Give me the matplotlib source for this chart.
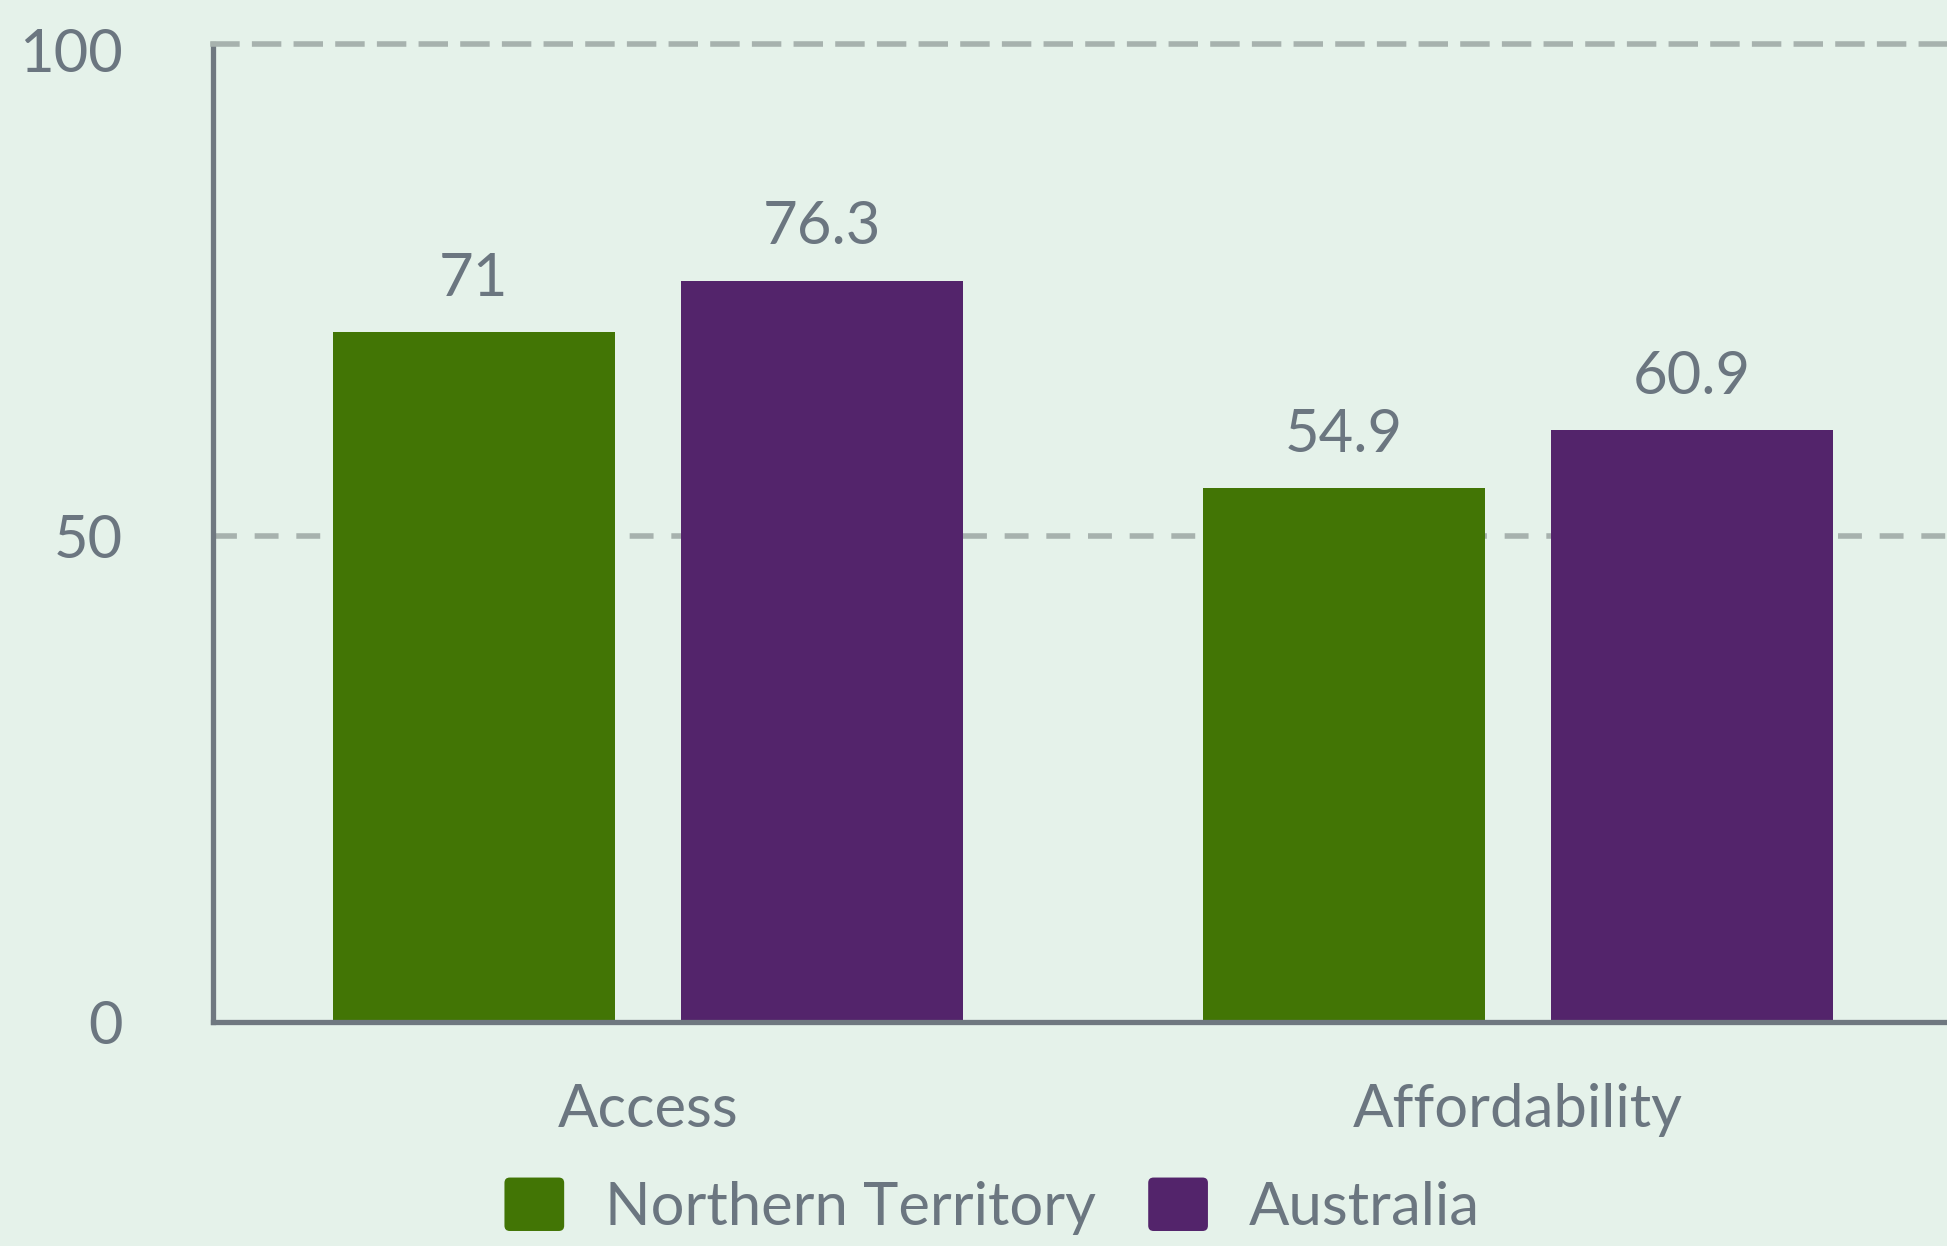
import matplotlib
matplotlib.use("Agg")
import matplotlib.pyplot as plt
import numpy as np
from matplotlib.patches import FancyBboxPatch, Patch
from matplotlib.legend_handler import HandlerPatch

categories = ["Access", "Affordability"]
series_names = ["Northern Territory", "Australia"]
nt_values = [71, 54.9]
aus_values = [76.3, 60.9]
value_labels_nt = ["71", "54.9"]
value_labels_aus = ["76.3", "60.9"]
ytick_values = [0, 50, 100]
ytick_labels = ["0", "50", "100"]

BG = "#e5f2ea"
GREEN = "#427505"
PURPLE = "#53246b"
TEXT = "#6b7680"
GRID = "#a7b2ae"
SPINE = "#6f7880"

plt.rcParams['font.family'] = ['Lato', 'DejaVu Sans']
FS = 43

fig = plt.figure(figsize=(19.47, 12.46), dpi=100, facecolor=BG)
ax = fig.add_axes([0.1092, 0.1800, 0.894, 0.7843])
ax.set_facecolor(BG)

x = np.arange(len(categories))
w = 0.324
off = 0.2
b1 = ax.bar(x - off, nt_values, width=w, color=GREEN, zorder=3)
b2 = ax.bar(x + off, aus_values, width=w, color=PURPLE, zorder=3)

for bars, labs in ((b1, value_labels_nt), (b2, value_labels_aus)):
    for rect, lab in zip(bars, labs):
        ax.annotate(lab, (rect.get_x() + rect.get_width() / 2, rect.get_height()),
                    xytext=(0, 26), textcoords="offset points",
                    ha="center", va="baseline", fontsize=FS, color=TEXT)

ax.set_xlim(-0.5, 1.5)
ax.set_ylim(0, 100.6)
ax.axhline(50, color=GRID, lw=4, dashes=(4.3, 3.2), zorder=1)

ax.set_yticks(ytick_values)
ax.set_yticklabels(ytick_labels)
ax.set_xticks(x)
ax.set_xticklabels(categories)
ax.tick_params(axis='y', length=0, pad=65, labelsize=FS, labelcolor=TEXT)
ax.tick_params(axis='x', length=0, pad=44, labelsize=FS, labelcolor=TEXT)

for s in ("left", "bottom"):
    ax.spines[s].set_color(SPINE)
    ax.spines[s].set_linewidth(3.8)
ax.spines["right"].set_visible(False)
ax.spines["top"].set_color(GRID)
ax.spines["top"].set_linewidth(4)
ax.spines["top"].set_linestyle((0, (4.3, 3.2)))
ax.spines["bottom"].set_zorder(4)


class RoundHandler(HandlerPatch):
    def create_artists(self, legend, orig_handle, xdescent, ydescent, width, height, fontsize, trans):
        p = FancyBboxPatch((-xdescent, -ydescent), width, height,
                           boxstyle="round,pad=0,rounding_size=%f" % (height * 0.1),
                           facecolor=orig_handle.get_facecolor(), edgecolor="none",
                           transform=trans)
        return [p]


handles = [Patch(facecolor=GREEN), Patch(facecolor=PURPLE)]
leg = fig.legend(handles, series_names, loc="center", bbox_to_anchor=(992 / 1947, 0.032),
                 ncol=2, frameon=False, fontsize=FS, handlelength=1.0, handleheight=1.0,
                 handletextpad=0.68, columnspacing=0.88, borderpad=0,
                 handler_map={Patch: RoundHandler()})
for t in leg.get_texts():
    t.set_color(TEXT)

fig.savefig("out.png", dpi=100, facecolor=BG)
